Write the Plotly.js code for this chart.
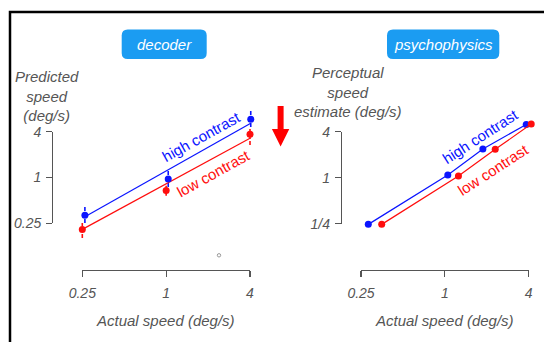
<!DOCTYPE html>
<html>
<head>
<meta charset="utf-8">
<script src="https://cdn.plot.ly/plotly-3.0.1.min.js"></script>
<style>html,body{margin:0;padding:0;background:#fff;}#chart{width:544px;height:342px;}</style>
</head>
<body>
<div id="chart"></div>
<script>
// ---------- data ----------
const tickVals = [0.25, 1, 4];
const xTickText = ['0.25', '1', '4'];
const yTickTextDecoder = ['0.25', '1', '4'];
const yTickTextPsych = ['1/4', '1', '4'];

// decoder panel
const decHighX = [0.261, 1.035, 4.05];
const decHighY = [0.318, 0.953, 5.83];
const decHighErrLo = [0.252, 0.748, 4.61];
const decHighErrHi = [0.413, 1.214, 7.71];
const decLowX = [0.25, 1.0, 4.0];
const decLowY = [0.208, 0.675, 3.70];
const decLowErrLo = [0.160, 0.575, 2.68];
const decLowErrHi = [0.252, 0.785, 4.43];
const decHighFitX = [0.261, 4.05];
const decHighFitY = [0.305, 5.16];
const decLowFitX = [0.25, 4.0];
const decLowFitY = [0.208, 3.28];

// psychophysics panel
const psyHighX = [0.282, 1.05, 1.875, 3.84];
const psyHighY = [0.245, 1.085, 2.37, 4.98];
const psyLowX = [0.352, 1.252, 2.30, 4.17];
const psyLowY = [0.245, 1.05, 2.35, 5.04];

const panelTitles = ['decoder', 'psychophysics'];
const xTitle = 'Actual speed (deg/s)';
const yTitles = ['Predicted<br>speed<br>(deg/s)', 'Perceptual<br>speed<br>estimate (deg/s)'];
const seriesLabels = ['high contrast', 'low contrast'];

// ---------- geometry helpers (pixels -> paper) ----------
const W = 544, H = 342;
const px = p => p / W;
const py = p => 1 - p / H;
const L = Math.log10;
function lin(p, p0, v0, p1, v1) { return v0 + (p - p0) * (v1 - v0) / (p1 - p0); }

const BLUE = '#0a14ff', RED = '#ff0d0d', AX = '#555555';
const FONT = 'Liberation Sans, Arial, Helvetica, sans-serif';

// panel pixel calibration: [px of 0.25, px of 4] on x; [py of 0.25, py of 4] on y
const panels = [
  { xp: [82.3, 250], yp: [223.3, 131.7], xdom: [60, 270], ydom: [95, 255], yAxisX: 53.3 },
  { xp: [361, 528.7], yp: [223.7, 131.7], xdom: [340, 543], ydom: [95, 255], yAxisX: 342 }
];
const xAxisY = 270;

function dataAxes(pn) {
  const xr = [lin(pn.xdom[0], pn.xp[0], L(0.25), pn.xp[1], L(4)), lin(pn.xdom[1], pn.xp[0], L(0.25), pn.xp[1], L(4))];
  const yr = [lin(pn.ydom[1], pn.yp[0], L(0.25), pn.yp[1], L(4)), lin(pn.ydom[0], pn.yp[0], L(0.25), pn.yp[1], L(4))];
  return {
    x: { type: 'log', domain: [px(pn.xdom[0]), px(pn.xdom[1])], range: xr, visible: false, showgrid: false, zeroline: false },
    y: { type: 'log', domain: [py(pn.ydom[1]), py(pn.ydom[0])], range: yr, visible: false, showgrid: false, zeroline: false }
  };
}

const tickFont = { family: FONT, size: 14, color: AX, style: 'italic' };
function decoX(pn, anchor) {
  return { type: 'log', domain: [px(pn.xp[0]), px(pn.xp[1])], range: [L(0.25), L(4)], anchor: anchor,
    showline: true, linecolor: AX, linewidth: 1.2, ticks: 'outside', ticklen: 6, tickwidth: 1.2, tickcolor: AX,
    tickmode: 'array', tickvals: tickVals, ticktext: xTickText, tickfont: tickFont, ticklabelstandoff: 4,
    showgrid: false, zeroline: false, fixedrange: true };
}
function decoY(pn, anchor, txt) {
  return { type: 'log', domain: [py(pn.yp[0]), py(pn.yp[1])], range: [L(0.25), L(4)], anchor: anchor,
    showline: true, linecolor: AX, linewidth: 1.2, ticks: 'outside', ticklen: 6, tickwidth: 1.2, tickcolor: AX,
    tickmode: 'array', tickvals: tickVals, ticktext: txt, tickfont: tickFont, ticklabelstandoff: 2,
    showgrid: false, zeroline: false, fixedrange: true };
}
const hidden = (dom) => ({ domain: dom, visible: false, showgrid: false, zeroline: false, range: [0, 1] });

function errTrace(xs, lo, hi, color, xa, ya) {
  const x = [], y = [];
  xs.forEach((v, i) => { x.push(v, v, null); y.push(lo[i], hi[i], null); });
  return { x, y, xaxis: xa, yaxis: ya, mode: 'lines', line: { color, width: 1.6, dash: '4px,2px' }, hoverinfo: 'skip', showlegend: false };
}
function pts(xs, ys, color, xa, ya, mode) {
  return { x: xs, y: ys, xaxis: xa, yaxis: ya, mode: mode, line: { color, width: 1.2 }, marker: { color, size: 7 }, showlegend: false, cliponaxis: false };
}

const traces = [
  errTrace(decHighX, decHighErrLo, decHighErrHi, BLUE, 'x', 'y'),
  errTrace(decLowX, decLowErrLo, decLowErrHi, RED, 'x', 'y'),
  pts(decHighFitX, decHighFitY, BLUE, 'x', 'y', 'lines'),
  pts(decLowFitX, decLowFitY, RED, 'x', 'y', 'lines'),
  pts(decHighX, decHighY, BLUE, 'x', 'y', 'markers'),
  pts(decLowX, decLowY, RED, 'x', 'y', 'markers'),
  pts(psyHighX, psyHighY, BLUE, 'x2', 'y2', 'lines+markers'),
  pts(psyLowX, psyLowY, RED, 'x2', 'y2', 'lines+markers'),
  { x: [], y: [], xaxis: 'x3', yaxis: 'y3', showlegend: false },
  { x: [], y: [], xaxis: 'x4', yaxis: 'y4', showlegend: false },
  { x: [], y: [], xaxis: 'x5', yaxis: 'y5', showlegend: false },
  { x: [], y: [], xaxis: 'x6', yaxis: 'y6', showlegend: false }
];

const d0 = dataAxes(panels[0]), d1 = dataAxes(panels[1]);
const xLineDom = [py(xAxisY + 0.01), py(xAxisY - 8)];
d0.x.anchor = 'y'; d0.y.anchor = 'x'; d1.x.anchor = 'y2'; d1.y.anchor = 'x2';

function roundRect(x0, y0, x1, y1, r) {
  const P = (x, y) => px(x) + ',' + py(y);
  return 'M' + P(x0 + r, y0) + ' L' + P(x1 - r, y0) + ' Q' + P(x1, y0) + ' ' + P(x1, y0 + r) +
    ' L' + P(x1, y1 - r) + ' Q' + P(x1, y1) + ' ' + P(x1 - r, y1) +
    ' L' + P(x0 + r, y1) + ' Q' + P(x0, y1) + ' ' + P(x0, y1 - r) +
    ' L' + P(x0, y0 + r) + ' Q' + P(x0, y0) + ' ' + P(x0 + r, y0) + ' Z';
}
function poly(ptsArr) { return 'M' + ptsArr.map(p => px(p[0]) + ',' + py(p[1])).join(' L') + ' Z'; }

const BADGE = '#1b9cf2';
const shapes = [
  { type: 'rect', xref: 'paper', yref: 'paper', x0: px(10), y0: py(12), x1: px(580), y1: py(380), line: { color: '#000', width: 2.5 } },
  { type: 'path', xref: 'paper', yref: 'paper', path: roundRect(121.7, 29.5, 206.7, 59, 6), fillcolor: BADGE, line: { width: 0 } },
  { type: 'path', xref: 'paper', yref: 'paper', path: roundRect(387, 29.5, 499.3, 59, 6), fillcolor: BADGE, line: { width: 0 } },
  { type: 'path', xref: 'paper', yref: 'paper', path: poly([[277.6, 106], [283.6, 106], [283.6, 129], [289.3, 129], [280.6, 146.5], [271.9, 129], [277.6, 129]]), fillcolor: '#ff0000', line: { width: 0 } },
  { type: 'circle', xref: 'paper', yref: 'paper', x0: px(217.3), x1: px(220.7), y0: py(257), y1: py(253.6), line: { color: '#999', width: 1 } }
];

const annFont = (size, color) => ({ family: FONT, size, color, style: 'italic' });
const annotations = [
  { text: panelTitles[0], x: px(164.2), y: py(44.5), font: annFont(15, '#fff') },
  { text: panelTitles[1], x: px(443.2), y: py(44.5), font: annFont(15, '#fff') },
  { text: yTitles[0], x: px(47), y: py(96), font: annFont(15, AX) },
  { text: yTitles[1], x: px(348), y: py(91.5), font: annFont(15, AX) },
  { text: xTitle, x: px(165), y: py(320), font: annFont(15, AX) },
  { text: xTitle, x: px(444), y: py(320), font: annFont(15, AX) },
  { text: seriesLabels[0], x: px(201.5), y: py(136.5), textangle: -29, font: { family: FONT, size: 15, color: BLUE } },
  { text: seriesLabels[1], x: px(213), y: py(173.5), textangle: -29, font: { family: FONT, size: 15, color: RED } },
  { text: seriesLabels[0], x: px(480), y: py(136.5), textangle: -33, font: { family: FONT, size: 15, color: BLUE } },
  { text: seriesLabels[1], x: px(493.5), y: py(170), textangle: -33, font: { family: FONT, size: 15, color: RED } }
].map(a => Object.assign({ xref: 'paper', yref: 'paper', showarrow: false, xanchor: 'center', yanchor: 'middle' }, a));

const layout = {
  width: W, height: H, margin: { l: 0, r: 0, t: 0, b: 0 },
  paper_bgcolor: '#fff', plot_bgcolor: 'rgba(0,0,0,0)', showlegend: false,
  font: { family: FONT },
  xaxis: d0.x, yaxis: d0.y, xaxis2: d1.x, yaxis2: d1.y,
  xaxis3: decoX(panels[0], 'y3'), yaxis3: Object.assign(hidden(xLineDom), { anchor: 'x3' }),
  yaxis4: decoY(panels[0], 'x4', yTickTextDecoder), xaxis4: Object.assign(hidden([px(panels[0].yAxisX), px(panels[0].yAxisX + 8)]), { anchor: 'y4' }),
  xaxis5: decoX(panels[1], 'y5'), yaxis5: Object.assign(hidden(xLineDom), { anchor: 'x5' }),
  yaxis6: decoY(panels[1], 'x6', yTickTextPsych), xaxis6: Object.assign(hidden([px(panels[1].yAxisX), px(panels[1].yAxisX + 8)]), { anchor: 'y6' }),
  shapes, annotations
};

Plotly.newPlot('chart', traces, layout, { staticPlot: true, displayModeBar: false });
</script>
</body>
</html>
